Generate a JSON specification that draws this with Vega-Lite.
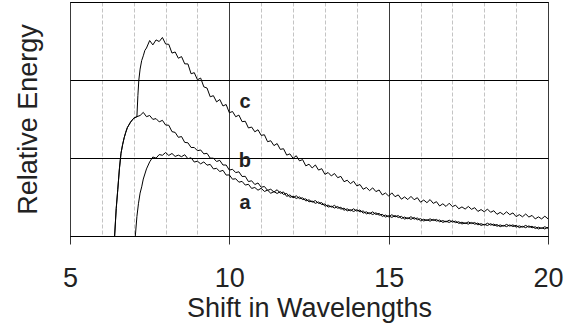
{
  "$schema": "https://vega.github.io/schema/vega-lite/v6.json",
  "width": 478,
  "height": 234,
  "autosize": {"type": "none"},
  "padding": {"left": 70, "top": 2, "right": 31, "bottom": 88},
  "background": "white",
  "config": {
    "font": "Liberation Sans",
    "view": {"stroke": "black", "strokeWidth": 1}
  },
  "datasets": {
    "curves": [
      {"s":"c","x":6.4,"y":0},{"s":"c","x":6.45,"y":0.35},{"s":"c","x":6.5,"y":0.6},{"s":"c","x":6.55,"y":0.86},{"s":"c","x":6.6,"y":1.06},{"s":"c","x":6.65,"y":1.17},{"s":"c","x":6.7,"y":1.26},{"s":"c","x":6.75,"y":1.33},{"s":"c","x":6.8,"y":1.39},{"s":"c","x":6.9,"y":1.46},{"s":"c","x":7.0,"y":1.51},{"s":"c","x":7.1,"y":1.53},{"s":"c","x":7.13,"y":1.8},{"s":"c","x":7.16,"y":2.0},{"s":"c","x":7.2,"y":2.14},{"s":"c","x":7.25,"y":2.25},{"s":"c","x":7.3,"y":2.31},{"s":"c","x":7.35,"y":2.38},{"s":"c","x":7.4,"y":2.41},
      {"s":"c","x":7.5,"y":2.506},{"s":"c","x":7.6,"y":2.45},{"s":"c","x":7.7,"y":2.514},{"s":"c","x":7.8,"y":2.493},{"s":"c","x":7.9,"y":2.545},{"s":"c","x":8.0,"y":2.462},{"s":"c","x":8.1,"y":2.457},{"s":"c","x":8.2,"y":2.345},{"s":"c","x":8.3,"y":2.359},{"s":"c","x":8.4,"y":2.279},{"s":"c","x":8.5,"y":2.3},{"s":"c","x":8.6,"y":2.207},{"s":"c","x":8.7,"y":2.206},{"s":"c","x":8.8,"y":2.08},{"s":"c","x":8.9,"y":2.094},{"s":"c","x":9.0,"y":2.003},{"s":"c","x":9.1,"y":2.025},{"s":"c","x":9.2,"y":1.912},{"s":"c","x":9.3,"y":1.897},{"s":"c","x":9.4,"y":1.785},{"s":"c","x":9.5,"y":1.799},{"s":"c","x":9.6,"y":1.719},{"s":"c","x":9.7,"y":1.75},{"s":"c","x":9.8,"y":1.667},{"s":"c","x":9.9,"y":1.686},{"s":"c","x":10.0,"y":1.58},
      {"s":"c","x":10.1,"y":1.596},{"s":"c","x":10.2,"y":1.529},{"s":"c","x":10.3,"y":1.55},{"s":"c","x":10.4,"y":1.466},{"s":"c","x":10.5,"y":1.471},{"s":"c","x":10.6,"y":1.385},{"s":"c","x":10.7,"y":1.397},{"s":"c","x":10.8,"y":1.336},{"s":"c","x":10.9,"y":1.362},{"s":"c","x":11.0,"y":1.29},{"s":"c","x":11.1,"y":1.298},{"s":"c","x":11.2,"y":1.209},{"s":"c","x":11.3,"y":1.221},{"s":"c","x":11.4,"y":1.159},{"s":"c","x":11.5,"y":1.185},{"s":"c","x":11.6,"y":1.11},{"s":"c","x":11.7,"y":1.119},{"s":"c","x":11.8,"y":1.037},{"s":"c","x":11.9,"y":1.053},{"s":"c","x":12.0,"y":0.996},
      {"s":"c","x":12.1,"y":1.029},{"s":"c","x":12.2,"y":0.964},{"s":"c","x":12.3,"y":0.979},{"s":"c","x":12.4,"y":0.899},{"s":"c","x":12.5,"y":0.921},{"s":"c","x":12.6,"y":0.872},{"s":"c","x":12.7,"y":0.911},{"s":"c","x":12.8,"y":0.845},{"s":"c","x":12.9,"y":0.863},{"s":"c","x":13.0,"y":0.79},
      {"s":"c","x":13.1,"y":0.814},{"s":"c","x":13.2,"y":0.77},{"s":"c","x":13.3,"y":0.801},{"s":"c","x":13.4,"y":0.748},{"s":"c","x":13.5,"y":0.764},{"s":"c","x":13.6,"y":0.696},{"s":"c","x":13.7,"y":0.715},{"s":"c","x":13.8,"y":0.671},{"s":"c","x":13.9,"y":0.702},{"s":"c","x":14.0,"y":0.643},{"s":"c","x":14.1,"y":0.66},{"s":"c","x":14.2,"y":0.599},{"s":"c","x":14.3,"y":0.622},{"s":"c","x":14.4,"y":0.582},{"s":"c","x":14.5,"y":0.617},{"s":"c","x":14.6,"y":0.569},{"s":"c","x":14.7,"y":0.59},{"s":"c","x":14.8,"y":0.527},{"s":"c","x":14.9,"y":0.551},{"s":"c","x":15.0,"y":0.512},
      {"s":"c","x":15.1,"y":0.553},{"s":"c","x":15.2,"y":0.504},{"s":"c","x":15.3,"y":0.527},{"s":"c","x":15.4,"y":0.472},{"s":"c","x":15.5,"y":0.501},{"s":"c","x":15.6,"y":0.467},{"s":"c","x":15.7,"y":0.508},{"s":"c","x":15.8,"y":0.465},{"s":"c","x":15.9,"y":0.491},{"s":"c","x":16.0,"y":0.433},{"s":"c","x":16.1,"y":0.461},{"s":"c","x":16.2,"y":0.427},{"s":"c","x":16.3,"y":0.467},{"s":"c","x":16.4,"y":0.418},{"s":"c","x":16.5,"y":0.44},{"s":"c","x":16.6,"y":0.385},{"s":"c","x":16.7,"y":0.413},{"s":"c","x":16.8,"y":0.379},{"s":"c","x":16.9,"y":0.42},{"s":"c","x":17.0,"y":0.377},
      {"s":"c","x":17.1,"y":0.395},{"s":"c","x":17.2,"y":0.349},{"s":"c","x":17.3,"y":0.373},{"s":"c","x":17.4,"y":0.345},{"s":"c","x":17.5,"y":0.379},{"s":"c","x":17.6,"y":0.342},{"s":"c","x":17.7,"y":0.363},{"s":"c","x":17.8,"y":0.315},{"s":"c","x":17.9,"y":0.339},{"s":"c","x":18.0,"y":0.31},{"s":"c","x":18.1,"y":0.345},{"s":"c","x":18.2,"y":0.304},{"s":"c","x":18.3,"y":0.324},{"s":"c","x":18.4,"y":0.278},{"s":"c","x":18.5,"y":0.303},{"s":"c","x":18.6,"y":0.275},{"s":"c","x":18.7,"y":0.31},{"s":"c","x":18.8,"y":0.274},{"s":"c","x":18.9,"y":0.296},{"s":"c","x":19.0,"y":0.248},{"s":"c","x":19.1,"y":0.274},{"s":"c","x":19.2,"y":0.246},{"s":"c","x":19.3,"y":0.282},{"s":"c","x":19.4,"y":0.243},{"s":"c","x":19.5,"y":0.264},{"s":"c","x":19.6,"y":0.219},{"s":"c","x":19.7,"y":0.245},{"s":"c","x":19.8,"y":0.219},{"s":"c","x":19.9,"y":0.254},{"s":"c","x":20.0,"y":0.22},

      {"s":"b","x":6.4,"y":0},{"s":"b","x":6.45,"y":0.35},{"s":"b","x":6.5,"y":0.6},{"s":"b","x":6.55,"y":0.86},{"s":"b","x":6.6,"y":1.06},{"s":"b","x":6.65,"y":1.17},{"s":"b","x":6.7,"y":1.26},{"s":"b","x":6.75,"y":1.33},{"s":"b","x":6.8,"y":1.39},{"s":"b","x":6.9,"y":1.46},{"s":"b","x":7.0,"y":1.51},{"s":"b","x":7.1,"y":1.53},
      {"s":"b","x":7.2,"y":1.545},{"s":"b","x":7.3,"y":1.585},{"s":"b","x":7.4,"y":1.53},{"s":"b","x":7.5,"y":1.545},{"s":"b","x":7.6,"y":1.495},{"s":"b","x":7.7,"y":1.505},{"s":"b","x":7.8,"y":1.463},{"s":"b","x":7.9,"y":1.483},{"s":"b","x":8.0,"y":1.423},{"s":"b","x":8.1,"y":1.42},{"s":"b","x":8.2,"y":1.338},{"s":"b","x":8.3,"y":1.328},{"s":"b","x":8.4,"y":1.265},{"s":"b","x":8.5,"y":1.275},{"s":"b","x":8.6,"y":1.2},{"s":"b","x":8.7,"y":1.195},{"s":"b","x":8.8,"y":1.135},{"s":"b","x":8.9,"y":1.135},{"s":"b","x":9.0,"y":1.093},{"s":"b","x":9.1,"y":1.103},{"s":"b","x":9.2,"y":1.053},{"s":"b","x":9.3,"y":1.06},{"s":"b","x":9.4,"y":0.998},{"s":"b","x":9.5,"y":0.998},{"s":"b","x":9.6,"y":0.955},{"s":"b","x":9.7,"y":0.97},{"s":"b","x":9.8,"y":0.91},{"s":"b","x":9.9,"y":0.91},{"s":"b","x":10.0,"y":0.845},
      {"s":"b","x":10.1,"y":0.855},{"s":"b","x":10.2,"y":0.813},{"s":"b","x":10.3,"y":0.823},{"s":"b","x":10.4,"y":0.763},{"s":"b","x":10.5,"y":0.765},{"s":"b","x":10.6,"y":0.698},{"s":"b","x":10.7,"y":0.708},{"s":"b","x":10.8,"y":0.66},{"s":"b","x":10.9,"y":0.68},{"s":"b","x":11.0,"y":0.625},{"s":"b","x":11.1,"y":0.635},{"s":"b","x":11.2,"y":0.585},{"s":"b","x":11.3,"y":0.6},{"s":"b","x":11.4,"y":0.563},{"s":"b","x":11.5,"y":0.593},{"s":"b","x":11.6,"y":0.548},{"s":"b","x":11.7,"y":0.565},{"s":"b","x":11.8,"y":0.508},{"s":"b","x":11.9,"y":0.528},{"s":"b","x":12.0,"y":0.49},
      {"s":"b","x":12.1,"y":0.516},{"s":"b","x":12.2,"y":0.479},{"s":"b","x":12.3,"y":0.49},{"s":"b","x":12.4,"y":0.449},{"s":"b","x":12.5,"y":0.464},{"s":"b","x":12.6,"y":0.434},{"s":"b","x":12.7,"y":0.454},{"s":"b","x":12.8,"y":0.418},{"s":"b","x":12.9,"y":0.428},{"s":"b","x":13.0,"y":0.382},{"s":"b","x":13.1,"y":0.397},{"s":"b","x":13.2,"y":0.37},{"s":"b","x":13.3,"y":0.393},{"s":"b","x":13.4,"y":0.356},{"s":"b","x":13.5,"y":0.368},{"s":"b","x":13.6,"y":0.33},{"s":"b","x":13.7,"y":0.348},{"s":"b","x":13.8,"y":0.323},{"s":"b","x":13.9,"y":0.349},{"s":"b","x":14.0,"y":0.319},{"s":"b","x":14.1,"y":0.334},{"s":"b","x":14.2,"y":0.293},{"s":"b","x":14.3,"y":0.31},{"s":"b","x":14.4,"y":0.285},{"s":"b","x":14.5,"y":0.31},{"s":"b","x":14.6,"y":0.276},{"s":"b","x":14.7,"y":0.29},{"s":"b","x":14.8,"y":0.251},{"s":"b","x":14.9,"y":0.269},{"s":"b","x":15.0,"y":0.246},
      {"s":"b","x":15.1,"y":0.273},{"s":"b","x":15.2,"y":0.245},{"s":"b","x":15.3,"y":0.262},{"s":"b","x":15.4,"y":0.224},{"s":"b","x":15.5,"y":0.243},{"s":"b","x":15.6,"y":0.221},{"s":"b","x":15.7,"y":0.248},{"s":"b","x":15.8,"y":0.216},{"s":"b","x":15.9,"y":0.231},{"s":"b","x":16.0,"y":0.195},{"s":"b","x":16.1,"y":0.215},{"s":"b","x":16.2,"y":0.198},{"s":"b","x":16.3,"y":0.22},{"s":"b","x":16.4,"y":0.198},{"s":"b","x":16.5,"y":0.213},{"s":"b","x":16.6,"y":0.182},{"s":"b","x":16.7,"y":0.198},{"s":"b","x":16.8,"y":0.18},{"s":"b","x":16.9,"y":0.203},{"s":"b","x":17.0,"y":0.178},
      {"s":"b","x":17.1,"y":0.191},{"s":"b","x":17.2,"y":0.161},{"s":"b","x":17.3,"y":0.177},{"s":"b","x":17.4,"y":0.159},{"s":"b","x":17.5,"y":0.181},{"s":"b","x":17.6,"y":0.159},{"s":"b","x":17.7,"y":0.173},{"s":"b","x":17.8,"y":0.143},{"s":"b","x":17.9,"y":0.158},{"s":"b","x":18.0,"y":0.14},{"s":"b","x":18.1,"y":0.164},{"s":"b","x":18.2,"y":0.14},{"s":"b","x":18.3,"y":0.153},{"s":"b","x":18.4,"y":0.125},{"s":"b","x":18.5,"y":0.142},{"s":"b","x":18.6,"y":0.126},{"s":"b","x":18.7,"y":0.149},{"s":"b","x":18.8,"y":0.127},{"s":"b","x":18.9,"y":0.143},{"s":"b","x":19.0,"y":0.114},{"s":"b","x":19.1,"y":0.13},{"s":"b","x":19.2,"y":0.113},{"s":"b","x":19.3,"y":0.136},{"s":"b","x":19.4,"y":0.112},{"s":"b","x":19.5,"y":0.125},{"s":"b","x":19.6,"y":0.096},{"s":"b","x":19.7,"y":0.113},{"s":"b","x":19.8,"y":0.096},{"s":"b","x":19.9,"y":0.119},{"s":"b","x":20.0,"y":0.097},

      {"s":"a","x":7.05,"y":0},{"s":"a","x":7.1,"y":0.25},{"s":"a","x":7.15,"y":0.42},{"s":"a","x":7.2,"y":0.55},{"s":"a","x":7.25,"y":0.63},{"s":"a","x":7.3,"y":0.73},{"s":"a","x":7.4,"y":0.86},{"s":"a","x":7.5,"y":0.95},
      {"s":"a","x":7.6,"y":1.013},{"s":"a","x":7.7,"y":0.998},{"s":"a","x":7.8,"y":1.044},{"s":"a","x":7.9,"y":1.035},{"s":"a","x":8.0,"y":1.07},{"s":"a","x":8.1,"y":1.033},{"s":"a","x":8.2,"y":1.058},{"s":"a","x":8.3,"y":1.02},{"s":"a","x":8.4,"y":1.037},{"s":"a","x":8.5,"y":1.017},{"s":"a","x":8.6,"y":1.042},{"s":"a","x":8.7,"y":0.991},{"s":"a","x":8.8,"y":1.003},{"s":"a","x":8.9,"y":0.948},{"s":"a","x":9.0,"y":0.959},{"s":"a","x":9.1,"y":0.925},{"s":"a","x":9.2,"y":0.95},{"s":"a","x":9.3,"y":0.908},{"s":"a","x":9.4,"y":0.918},{"s":"a","x":9.5,"y":0.86},{"s":"a","x":9.6,"y":0.867},{"s":"a","x":9.7,"y":0.827},{"s":"a","x":9.8,"y":0.842},{"s":"a","x":9.9,"y":0.781},{"s":"a","x":10.0,"y":0.783},
      {"s":"a","x":10.1,"y":0.728},{"s":"a","x":10.2,"y":0.734},{"s":"a","x":10.3,"y":0.69},{"s":"a","x":10.4,"y":0.7},{"s":"a","x":10.5,"y":0.653},{"s":"a","x":10.6,"y":0.663},{"s":"a","x":10.7,"y":0.61},{"s":"a","x":10.8,"y":0.622},{"s":"a","x":10.9,"y":0.587},{"s":"a","x":11.0,"y":0.612},{"s":"a","x":11.1,"y":0.571},{"s":"a","x":11.2,"y":0.588},{"s":"a","x":11.3,"y":0.548},{"s":"a","x":11.4,"y":0.569},{"s":"a","x":11.5,"y":0.545},{"s":"a","x":11.6,"y":0.57},{"s":"a","x":11.7,"y":0.533},{"s":"a","x":11.8,"y":0.546},{"s":"a","x":11.9,"y":0.496},{"s":"a","x":12.0,"y":0.51},
      {"s":"a","x":12.1,"y":0.481},{"s":"a","x":12.2,"y":0.501},{"s":"a","x":12.3,"y":0.467},{"s":"a","x":12.4,"y":0.476},{"s":"a","x":12.5,"y":0.438},{"s":"a","x":12.6,"y":0.448},{"s":"a","x":12.7,"y":0.419},{"s":"a","x":12.8,"y":0.436},{"s":"a","x":12.9,"y":0.403},{"s":"a","x":13.0,"y":0.41},{"s":"a","x":13.1,"y":0.371},{"s":"a","x":13.2,"y":0.383},{"s":"a","x":13.3,"y":0.358},{"s":"a","x":13.4,"y":0.378},{"s":"a","x":13.5,"y":0.345},{"s":"a","x":13.6,"y":0.357},{"s":"a","x":13.7,"y":0.322},{"s":"a","x":13.8,"y":0.337},{"s":"a","x":13.9,"y":0.314},{"s":"a","x":14.0,"y":0.337},{"s":"a","x":14.1,"y":0.309},{"s":"a","x":14.2,"y":0.321},{"s":"a","x":14.3,"y":0.284},{"s":"a","x":14.4,"y":0.298},{"s":"a","x":14.5,"y":0.275},{"s":"a","x":14.6,"y":0.298},{"s":"a","x":14.7,"y":0.267},{"s":"a","x":14.8,"y":0.278},{"s":"a","x":14.9,"y":0.243},{"s":"a","x":15.0,"y":0.26},
      {"s":"a","x":15.1,"y":0.238},{"s":"a","x":15.2,"y":0.263},{"s":"a","x":15.3,"y":0.237},{"s":"a","x":15.4,"y":0.252},{"s":"a","x":15.5,"y":0.217},{"s":"a","x":15.6,"y":0.234},{"s":"a","x":15.7,"y":0.213},{"s":"a","x":15.8,"y":0.238},{"s":"a","x":15.9,"y":0.208},{"s":"a","x":16.0,"y":0.222},{"s":"a","x":16.1,"y":0.192},{"s":"a","x":16.2,"y":0.209},{"s":"a","x":16.3,"y":0.19},{"s":"a","x":16.4,"y":0.214},{"s":"a","x":16.5,"y":0.191},{"s":"a","x":16.6,"y":0.205},{"s":"a","x":16.7,"y":0.174},{"s":"a","x":16.8,"y":0.191},{"s":"a","x":16.9,"y":0.173},{"s":"a","x":17.0,"y":0.196},
      {"s":"a","x":17.1,"y":0.171},{"s":"a","x":17.2,"y":0.183},{"s":"a","x":17.3,"y":0.154},{"s":"a","x":17.4,"y":0.169},{"s":"a","x":17.5,"y":0.152},{"s":"a","x":17.6,"y":0.174},{"s":"a","x":17.7,"y":0.151},{"s":"a","x":17.8,"y":0.166},{"s":"a","x":17.9,"y":0.135},{"s":"a","x":18.0,"y":0.151},{"s":"a","x":18.1,"y":0.134},{"s":"a","x":18.2,"y":0.158},{"s":"a","x":18.3,"y":0.133},{"s":"a","x":18.4,"y":0.147},{"s":"a","x":18.5,"y":0.119},{"s":"a","x":18.6,"y":0.136},{"s":"a","x":18.7,"y":0.12},{"s":"a","x":18.8,"y":0.142},{"s":"a","x":18.9,"y":0.121},{"s":"a","x":19.0,"y":0.137},{"s":"a","x":19.1,"y":0.107},{"s":"a","x":19.2,"y":0.124},{"s":"a","x":19.3,"y":0.106},{"s":"a","x":19.4,"y":0.13},{"s":"a","x":19.5,"y":0.105},{"s":"a","x":19.6,"y":0.118},{"s":"a","x":19.7,"y":0.09},{"s":"a","x":19.8,"y":0.106},{"s":"a","x":19.9,"y":0.09},{"s":"a","x":20.0,"y":0.112}
    ],
    "labels": [
      {"t":"c","x":10.49,"y":1.64},
      {"t":"b","x":10.49,"y":0.883},
      {"t":"a","x":10.49,"y":0.343}
    ]
  },
  "layer": [
    {
      "data": {"name": "curves"},
      "mark": {"type": "line", "color": "black", "strokeWidth": 1, "clip": true},
      "encoding": {
        "x": {
          "field": "x", "type": "quantitative",
          "scale": {"domain": [5, 20], "nice": false, "zero": false},
          "axis": {
            "values": [5,6,7,8,9,10,11,12,13,14,15,16,17,18,19,20],
            "tickCount": 40,
            "format": "d",
            "grid": true,
            "gridColor": {"condition": {"test": "datum.value % 5 === 0", "value": "#3a3a3a"}, "value": "#c4c4c4"},
            "gridDash": {"condition": {"test": "datum.value % 5 === 0", "value": []}, "value": [4, 2]},
            "gridWidth": 1,
            "ticks": true,
            "tickSize": 8,
            "tickColor": "#333",
            "tickOpacity": {"condition": {"test": "datum.value % 5 === 0", "value": 1}, "value": 0},
            "labelExpr": "datum.value % 5 === 0 ? datum.label : ''",
            "labelFontSize": 27,
            "labelColor": "#222",
            "labelBaseline": "alphabetic",
            "labelPadding": 42,
            "labelFlush": false,
            "labelOverlap": false,
            "domainColor": "black",
            "title": "Shift in Wavelengths",
            "titleFontSize": 27,
            "titleFontWeight": "normal",
            "titleColor": "#222",
            "titleBaseline": "alphabetic",
            "titleX": 239,
            "titleY": 80,
            "titleAlign": "center"
          }
        },
        "y": {
          "field": "y", "type": "quantitative",
          "scale": {"domain": [0, 3], "nice": false},
          "axis": {
            "values": [0, 1, 2, 3],
            "grid": true,
            "gridColor": "black",
            "gridWidth": 1,
            "labels": false,
            "ticks": false,
            "domain": false,
            "title": "Relative Energy",
            "titleFontSize": 27,
            "titleFontWeight": "normal",
            "titleColor": "#222",
            "titleAngle": -90,
            "titleBaseline": "alphabetic",
            "titleAlign": "center",
            "titleX": -34,
            "titleY": 117
          }
        },
        "detail": {"field": "s", "type": "nominal"}
      }
    },
    {
      "data": {"name": "labels"},
      "mark": {"type": "text", "fontSize": 20, "fontWeight": "bold", "color": "#222", "align": "center", "baseline": "alphabetic"},
      "encoding": {
        "x": {"field": "x", "type": "quantitative"},
        "y": {"field": "y", "type": "quantitative"},
        "text": {"field": "t", "type": "nominal"}
      }
    }
  ]
}
